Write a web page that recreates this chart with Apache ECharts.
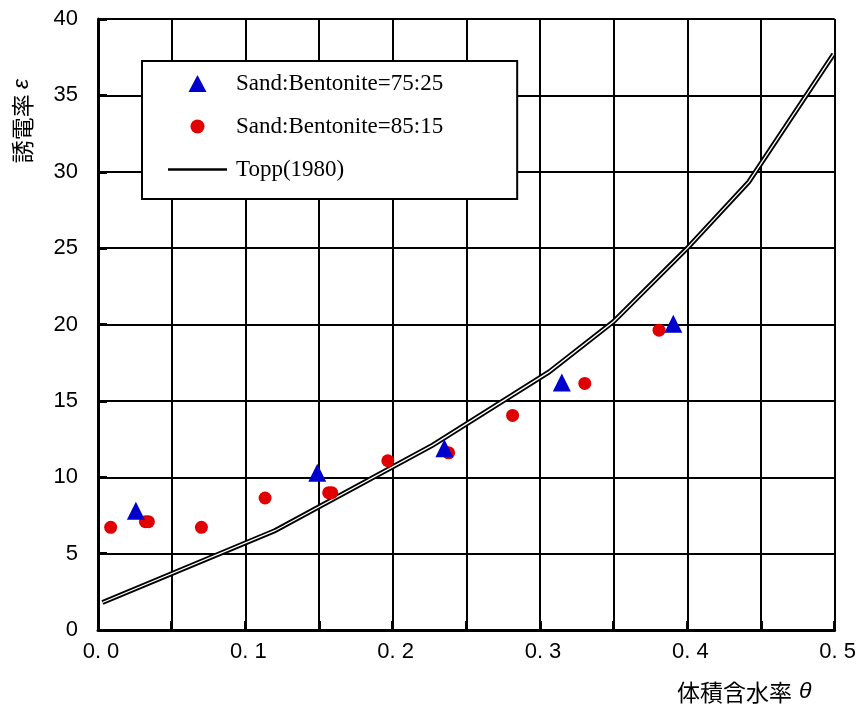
<!DOCTYPE html>
<html>
<head>
<meta charset="utf-8">
<script src="https://cdn.jsdelivr.net/npm/echarts@6/dist/echarts.min.js"></script>
<style>
html,body{margin:0;padding:0;background:#fff;}
#chart{width:859px;height:704px;}
</style>
</head>
<body>
<div id="chart"></div>
<script>
// ---- data ----
const seriesNames = ['Sand:Bentonite=75:25', 'Sand:Bentonite=85:15', 'Topp(1980)'];
const sand75 = [[0.0257, 7.8], [0.1488, 10.3], [0.2351, 11.9], [0.3148, 16.2], [0.3905, 20.05]];
const sand85 = [[0.0086, 6.72], [0.0322, 7.09], [0.0342, 7.09], [0.0702, 6.72], [0.1134, 8.64],
                [0.1566, 8.99], [0.1586, 8.99], [0.1967, 11.08], [0.238, 11.6], [0.2814, 14.05],
                [0.3304, 16.14], [0.3808, 19.63]];
const topp = [[0.003, 1.8], [0.120, 6.5], [0.2272, 12.1], [0.3062, 16.9], [0.350, 20.2],
              [0.400, 25.0], [0.4417, 29.34], [0.4993, 37.7]];
const xTickLabels = ['0. 0', '0. 1', '0. 2', '0. 3', '0. 4', '0. 5'];
const yTickLabels = ['0', '5', '10', '15', '20', '25', '30', '35', '40'];
const xName = '体積含水率';
const yName = '誘電率 ';

const chart = echarts.init(document.getElementById('chart'), null, {renderer: 'canvas'});
const tickFont = {fontFamily: 'Liberation Sans, Arial, sans-serif', fontSize: 22, color: '#000'};

chart.setOption({
  animation: false,
  backgroundColor: '#fff',
  grid: {left: 98, top: 19, right: 23, bottom: 74, containLabel: false},
  xAxis: {
    type: 'value', min: 0, max: 0.5, interval: 0.05,
    axisLine: {show: true, onZero: false, lineStyle: {color: '#000', width: 3}},
    axisTick: {show: true, inside: true, length: 9, lineStyle: {color: '#000', width: 3}},
    splitLine: {show: true, lineStyle: {color: '#000', width: 2}},
    axisLabel: Object.assign({
      margin: 11, padding: [0, 0, 0, 6],
      formatter: function (v) {
        const k = Math.round(v * 20);
        return k % 2 === 0 ? xTickLabels[k / 2] : '';
      }
    }, tickFont)
  },
  yAxis: {
    type: 'value', min: 0, max: 40, interval: 5,
    axisLine: {show: true, onZero: false, lineStyle: {color: '#000', width: 3}},
    axisTick: {show: true, inside: true, length: 9, lineStyle: {color: '#000', width: 3}},
    splitLine: {show: true, lineStyle: {color: '#000', width: 2}},
    axisLabel: Object.assign({
      margin: 20,
      formatter: function (v) { return yTickLabels[Math.round(v / 5)]; }
    }, tickFont)
  },
  legend: {
    left: 142, top: 61, orient: 'vertical',
    backgroundColor: '#fff', borderColor: '#000', borderWidth: 2, borderRadius: 0,
    padding: [11, 74, 18, 26],
    itemGap: 20, itemWidth: 59, itemHeight: 18,
    textStyle: {fontFamily: 'Liberation Serif, Times New Roman, serif', fontSize: 23, lineHeight: 23, color: '#000', padding: [0, 0, 0, 4]},
    data: [
      {name: seriesNames[0], icon: 'path://M0,0 M18,18 M9,0.5 L18,17.5 L0,17.5 Z'},
      {name: seriesNames[1], icon: 'path://M0,0 M18,18 M9,2 A7,7 0 1,1 9,16 A7,7 0 1,1 9,2 Z'},
      {name: seriesNames[2], icon: 'path://M0,0 M59,18 M0,7.75 L59,7.75 L59,10.25 L0,10.25 Z', itemStyle: {color: '#000'}}
    ]
  },
  series: [
    {
      name: seriesNames[2], type: 'line', data: topp, symbol: 'none', z: 2,
      lineStyle: {color: '#000', width: 5, cap: 'butt', join: 'miter'},
      itemStyle: {color: '#000'}
    },
    {
      name: 'topp-inner', type: 'line', data: topp, symbol: 'none', z: 3,
      lineStyle: {color: '#fff', width: 1.3, cap: 'butt', join: 'miter'},
      itemStyle: {color: '#fff'}, legendHoverLink: false
    },
    {
      name: seriesNames[1], type: 'scatter', data: sand85, symbol: 'circle', symbolSize: 13, z: 4,
      itemStyle: {color: '#e00000', opacity: 1}
    },
    {
      name: seriesNames[0], type: 'scatter', data: sand75, symbol: 'triangle', symbolSize: 18, z: 5,
      itemStyle: {color: '#0000cc', opacity: 1}
    }
  ],
  graphic: [
    {
      type: 'text', x: 677, y: 692,
      style: {
        text: xName + '{t|θ}',
        font: '23px "Noto Sans CJK JP", sans-serif',
        fill: '#000', align: 'left', verticalAlign: 'middle',
        rich: {t: {fontFamily: 'Liberation Sans, sans-serif', fontSize: 23, fontStyle: 'italic', fill: '#000', padding: [0, 0, 0, 7]}}
      }
    },
    {
      type: 'text', x: 22, y: 121, rotation: Math.PI / 2,
      style: {
        text: yName + '{t|ε}',
        font: '23px "Noto Sans CJK JP", sans-serif',
        fill: '#000', align: 'center', verticalAlign: 'middle',
        rich: {t: {fontFamily: 'Liberation Sans, sans-serif', fontSize: 23, fontStyle: 'italic', fill: '#000'}}
      }
    }
  ]
});
</script>
</body>
</html>
